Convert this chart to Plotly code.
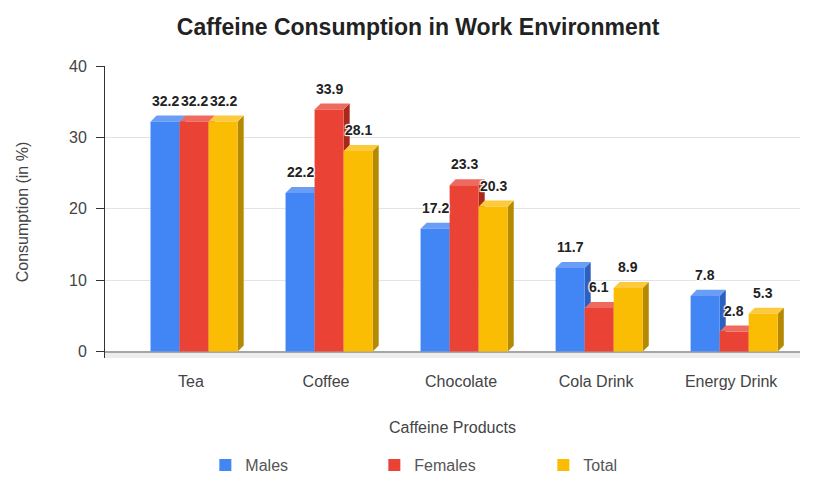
import plotly.graph_objects as go

# ---- data -------------------------------------------------------------
categories = ["Tea", "Coffee", "Chocolate", "Cola Drink", "Energy Drink"]
males = [32.2, 22.2, 17.2, 11.7, 7.8]
females = [32.2, 33.9, 23.3, 6.1, 2.8]
total = [32.2, 28.1, 20.3, 8.9, 5.3]
series_names = ["Males", "Females", "Total"]
y_ticks = [0, 10, 20, 30, 40]

# ---- styling ----------------------------------------------------------
FONT = "Liberation Sans, Arial, sans-serif"
front_colors = ["#4285F4", "#EA4335", "#FBBC04"]
side_colors = ["#2d5fc0", "#a9281c", "#b58900"]
top_colors = ["#6a9ef6", "#ef6a5e", "#fcca3c"]

BAR_W = 0.215        # width of one bar, in category units
GROUP_START = -0.30  # left edge of the group relative to the category centre
DEPTH_X = 0.045      # 3D depth offset (category units)
DEPTH_Y = 0.85       # 3D depth offset (value units)
Y_MIN, Y_MAX = -0.9, 40

series = [males, females, total]

fig = go.Figure()
shapes = []
annotations = []

# light floor under the baseline
shapes.append(dict(type="rect", xref="paper", yref="y", x0=0, x1=1,
                   y0=Y_MIN, y1=0, fillcolor="#ededed", line_width=0,
                   layer="below"))

for j, (name, vals) in enumerate(zip(series_names, series)):
    offset = GROUP_START + j * BAR_W
    fig.add_trace(go.Bar(
        x=categories, y=vals, name=name,
        width=BAR_W, offset=offset,
        marker=dict(color=front_colors[j], line_width=0),
        hoverinfo="x+y+name",
    ))
    for i, v in enumerate(vals):
        x0 = i + offset
        x1 = x0 + BAR_W
        # right-hand side face
        shapes.append(dict(
            type="path", xref="x", yref="y", layer="between",
            path=(f"M {x1},0 L {x1 + DEPTH_X},{DEPTH_Y} "
                  f"L {x1 + DEPTH_X},{v + DEPTH_Y} L {x1},{v} Z"),
            fillcolor=side_colors[j], line_width=0))
        # top face
        shapes.append(dict(
            type="path", xref="x", yref="y", layer="between",
            path=(f"M {x0},{v} L {x0 + DEPTH_X},{v + DEPTH_Y} "
                  f"L {x1 + DEPTH_X},{v + DEPTH_Y} L {x1},{v} Z"),
            fillcolor=top_colors[j], line_width=0))
        # value label
        annotations.append(dict(
            x=(x0 + x1) / 2, y=v, xref="x", yref="y",
            text=f"{v:.1f}", showarrow=False,
            yanchor="bottom", yshift=11,
            font=dict(family=FONT, size=14, color="#222222", weight="bold",
                      shadow="1px 1px 1px #fff, -1px -1px 1px #fff, "
                             "1px -1px 1px #fff, -1px 1px 1px #fff"),
        ))

fig.update_layout(
    width=815, height=477,
    margin=dict(l=105, r=15, t=66, b=119),
    paper_bgcolor="white", plot_bgcolor="white",
    barmode="overlay",
    font=dict(family=FONT, size=16, color="#444444"),
    title=dict(text="<b>Caffeine Consumption in Work Environment</b>",
               x=0.513, xanchor="center", y=0.943, yanchor="middle",
               yref="container",
               font=dict(family=FONT, size=23, color="#222222")),
    xaxis=dict(
        type="category", range=[-0.637, 4.51],
        showgrid=False, showline=False, ticks="",
        ticklabelstandoff=12,
        tickfont=dict(size=16, color="#444444"),
        title=dict(text="Caffeine Products", standoff=32,
                   font=dict(size=16, color="#444444")),
        automargin=False, fixedrange=True,
    ),
    yaxis=dict(
        range=[Y_MIN, Y_MAX], tickvals=y_ticks,
        showgrid=True, gridcolor="#e3e3e3", gridwidth=1,
        zeroline=True, zerolinecolor="#a6a6a6", zerolinewidth=2,
        showline=True, linecolor="#333333", linewidth=1,
        ticks="outside", ticklen=8, tickcolor="#333333",
        ticklabelstandoff=6,
        tickfont=dict(size=16, color="#444444"),
        title=dict(text="Consumption (in %)", standoff=36,
                   font=dict(size=16, color="#444444")),
        automargin=False, fixedrange=True,
    ),
    yaxis2=dict(
        overlaying="y", anchor="x", side="left",
        range=[Y_MIN, Y_MAX], tickvals=y_ticks,
        ticks="inside", ticklen=8, tickcolor="#333333",
        showticklabels=False, showgrid=False, zeroline=False,
        showline=False, fixedrange=True,
    ),
    legend=dict(
        orientation="h", x=0.563, xanchor="center", xref="container",
        y=0.025, yanchor="middle", yref="container",
        entrywidth=124, entrywidthmode="pixels",
        font=dict(family=FONT, size=16, color="#555555"),
        bgcolor="rgba(0,0,0,0)",
    ),
    shapes=shapes,
    annotations=annotations,
)

fig.write_html("out.html")
